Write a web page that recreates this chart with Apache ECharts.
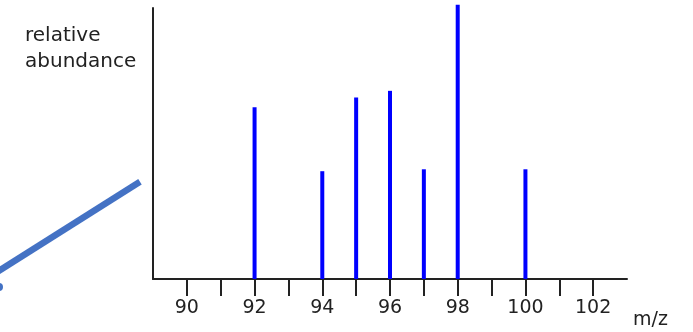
<!DOCTYPE html>
<html>
<head>
<meta charset="utf-8">
<script src="https://cdn.jsdelivr.net/npm/echarts@6/dist/echarts.min.js"></script>
<style>html,body{margin:0;padding:0;background:#fff}#c{width:693px;height:332px}</style>
</head>
<body>
<div id="c"></div>
<script>
// m/z values and relative abundances (tallest peak = 100)
const massValues = [92, 94, 95, 96, 97, 98, 100];
const abundance = [62.6, 39.3, 66.2, 68.6, 40.0, 100, 40.0];
const tickValues = [90, 91, 92, 93, 94, 95, 96, 97, 98, 99, 100, 101, 102];
const labelValues = [90, 92, 94, 96, 98, 100, 102];

const chart = echarts.init(document.getElementById('c'), null, {renderer: 'canvas'});
const font = 'DejaVu Sans';
chart.setOption({
  animation: false,
  backgroundColor: '#fff',
  title: {
    text: 'relative\nabundance',
    left: 25, top: 23, padding: 0,
    textStyle: {fontFamily: font, fontSize: 20, fontWeight: 'normal', color: '#222', lineHeight: 26}
  },
  grid: {left: 153, right: 66, top: 8, bottom: 53, containLabel: false},
  xAxis: {
    type: 'value', min: 89, max: 103, interval: 1,
    axisLine: {show: true, lineStyle: {color: '#222', width: 2}},
    axisTick: {show: true, customValues: tickValues, length: 17, lineStyle: {color: '#222', width: 2}},
    axisLabel: {show: true, customValues: labelValues, margin: 20, fontFamily: font, fontSize: 19, color: '#222'},
    splitLine: {show: false}
  },
  yAxis: {
    type: 'value', min: 0, max: 98.8,
    axisLine: {show: true, lineStyle: {color: '#222', width: 2}},
    axisTick: {show: false}, axisLabel: {show: false}, splitLine: {show: false}
  },
  series: [{
    type: 'bar',
    data: massValues.map((m, i) => [m, abundance[i]]),
    barWidth: 4,
    clip: false,
    itemStyle: {color: '#0000ff'}
  }],
  graphic: [
    {type: 'text', left: 633, top: 311, style: {text: 'm/z', font: '19px "DejaVu Sans"', fill: '#222'}},
    {type: 'line', shape: {x1: -2, y1: 271.3, x2: 140, y2: 181.7}, style: {stroke: '#4472C4', lineWidth: 6.5}},
    {type: 'circle', shape: {cx: -1, cy: 287, r: 4}, style: {fill: '#4472C4'}}
  ]
});
</script>
</body>
</html>
